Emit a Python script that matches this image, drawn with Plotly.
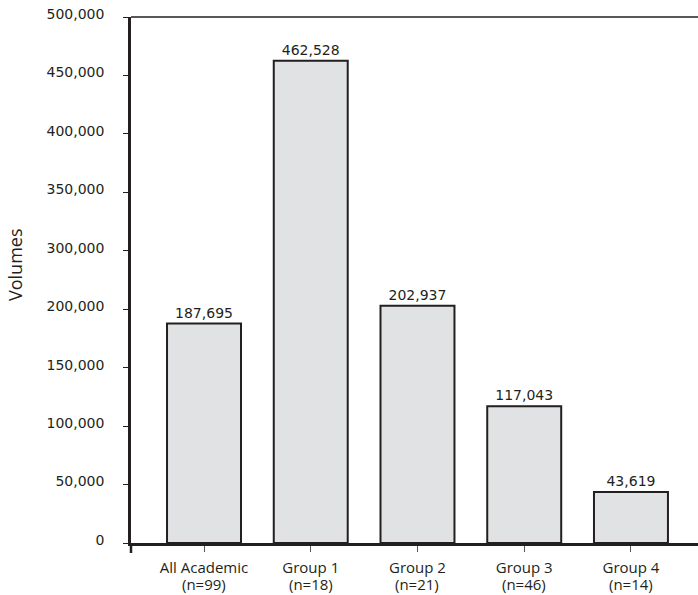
import plotly.graph_objects as go

# Data
categories = ["All Academic", "Group 1", "Group 2", "Group 3", "Group 4"]
sample_sizes = ["(n=99)", "(n=18)", "(n=21)", "(n=46)", "(n=14)"]
volumes = [187695, 462528, 202937, 117043, 43619]

lower_ticks = [0, 50000, 100000, 150000, 200000]
upper_ticks = [300000, 350000, 400000, 450000, 500000]

# Broken value axis: lower panel shows 0-225k, upper panel 275k-500k
LOWER_RANGE = [0, 225000]
UPPER_RANGE = [275000, 500000]

INK = "#231f20"


def fmt(v):
    return f"{v:,}"


lower_text = [fmt(v) if v <= LOWER_RANGE[1] else "" for v in volumes]
upper_text = [fmt(v) if v >= UPPER_RANGE[0] else "" for v in volumes]

bar_style = dict(
    marker=dict(color="#e1e2e4", line=dict(color=INK, width=2)),
    textposition="outside",
    textfont=dict(family="DejaVu Sans", size=14, color=INK),
    cliponaxis=False,
    hoverinfo="skip",
)

fig = go.Figure()
fig.add_trace(go.Bar(x=categories, y=volumes, text=lower_text, yaxis="y", **bar_style))
fig.add_trace(go.Bar(x=categories, y=volumes, text=upper_text, yaxis="y2", **bar_style))

yaxis_common = dict(
    showline=True,
    linecolor=INK,
    linewidth=2.5,
    ticks="outside",
    ticklen=5,
    tickwidth=1.2,
    tickcolor=INK,
    tickfont=dict(family="DejaVu Sans", size=14, color=INK),
    ticklabelstandoff=16,
    ticklabelshift=-3,
    showgrid=False,
    zeroline=False,
    anchor="x",
)

fig.update_layout(
    width=698,
    height=595,
    autosize=False,
    margin=dict(l=131, r=0, t=17, b=52),
    paper_bgcolor="white",
    plot_bgcolor="white",
    showlegend=False,
    bargap=0.307,
    xaxis=dict(
        range=[-0.684, 4.628],
        showline=True,
        linecolor=INK,
        linewidth=2.5,
        ticks="outside",
        ticklen=6,
        tickwidth=1.3,
        tickcolor="#555555",
        tickfont=dict(family="Open Sans", size=15, color=INK),
        ticklabelstandoff=3,
        showgrid=False,
        zeroline=False,
    ),
    yaxis=dict(
        domain=[0, 0.5],
        range=LOWER_RANGE,
        tickvals=lower_ticks,
        ticktext=[fmt(v) for v in lower_ticks],
        **yaxis_common,
    ),
    yaxis2=dict(
        domain=[0.5, 1],
        range=UPPER_RANGE,
        tickvals=upper_ticks,
        ticktext=[fmt(v) for v in upper_ticks],
        **yaxis_common,
    ),
    shapes=[
        # frame line along the top of the plot
        dict(type="line", xref="x domain", yref="y2 domain",
             x0=0, x1=1, y0=1, y1=1, line=dict(color=INK, width=1.3)),
        # value axis continues a little below the baseline
        dict(type="line", xref="x domain", yref="y domain",
             ysizemode="pixel", yanchor=0, x0=0, x1=0, y0=-10, y1=0,
             line=dict(color=INK, width=2.5)),
    ],
)

# second line of each category label
for cat, n in zip(categories, sample_sizes):
    fig.add_annotation(
        x=cat, xref="x", y=0, yref="y domain", yanchor="top",
        yshift=-30, borderpad=0, text=n, showarrow=False,
        font=dict(family="Open Sans", size=15, color=INK),
    )

fig.add_annotation(
    x=0, xref="paper", xanchor="center", xshift=-116,
    y=0.5285, yref="paper", yanchor="middle",
    text="Volumes", textangle=-90, showarrow=False,
    font=dict(family="Open Sans", size=18, color=INK),
)

fig.write_html("out.html")
